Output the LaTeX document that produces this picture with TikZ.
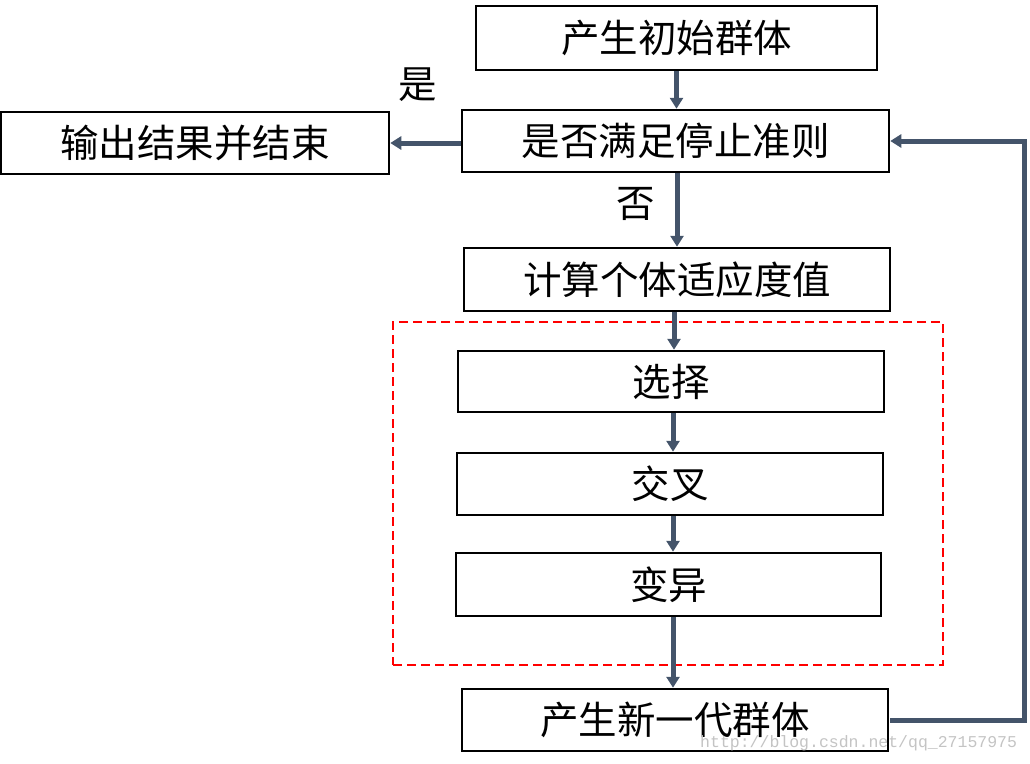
\documentclass[tikz,border=0pt]{standalone}
\usepackage{fontspec}
\setmainfont{Noto Sans CJK SC}
\newfontfamily\wmfont{Liberation Mono}
\usetikzlibrary{arrows.meta,calc}
\definecolor{arrowc}{HTML}{44546A}
\definecolor{wmgray}{HTML}{C4C4C4}
\tikzset{
  box/.style={draw=black, line width=2.5pt, fill=white, inner sep=0pt, anchor=center,
    font=\fontsize{38.5}{42}\selectfont},
  lbl/.style={inner sep=0pt, font=\fontsize{38.5}{42}\selectfont},
  arr/.style={draw=arrowc, line width=5pt, line join=miter, -{Triangle[width=13pt,length=11pt]}},
  redbox/.style={draw=red, line width=2pt, dash pattern=on 9pt off 5pt},
}
\begin{document}
\begin{tikzpicture}[x=1pt,y=-1pt]
\useasboundingbox (0,0) rectangle (1030,763);
\node[redbox, minimum width=550pt, minimum height=343pt, inner sep=0pt] (dash) at (668,493.5) {};
\node[box, minimum width=401pt, minimum height=64pt] (b1) at (676.5,38) {产生初始群体};
\node[box, minimum width=427pt, minimum height=62pt] (b2) at (675.5,141) {是否满足停止准则};
\node[box, minimum width=388pt, minimum height=62pt] (b3) at (195,143) {输出结果并结束};
\node[box, minimum width=426pt, minimum height=63pt] (b4) at (677,279.5) {计算个体适应度值};
\node[box, minimum width=426pt, minimum height=61pt] (b5) at (671,381.5) {选择};
\node[box, minimum width=426pt, minimum height=62pt] (b6) at (670,484) {交叉};
\node[box, minimum width=425pt, minimum height=63pt] (b7) at (668.5,584.5) {变异};
\node[box, minimum width=426pt, minimum height=62pt] (b8) at (675,720) {产生新一代群体};
\node[lbl] (yes) at (418,85) {是};
\node[lbl] (no) at (636,204) {否};
\draw[arr] (b1.south) -- (b1.south |- b2.north);
\draw[arr] (b2.west |- b3.east) -- (b3.east);
\draw[arr] ([xshift=1.5pt]b2.south) -- ([xshift=1.5pt]b2.south |- b4.north);
\draw[arr] ([xshift=-3pt]b4.south) -- ([xshift=-3pt]b4.south |- b5.north);
\draw[arr] ([xshift=2pt]b5.south) -- ([xshift=2pt]b5.south |- b6.north);
\draw[arr] ([xshift=3pt]b6.south) -- ([xshift=3pt]b6.south |- b7.north);
\draw[arr] ([xshift=4.5pt]b7.south) -- ([xshift=4.5pt]b7.south |- b8.north);
\coordinate (corner) at (1024,720);
\draw[arr] ([xshift=1pt]b8.east) -- (corner) |- (b2.east);
\node[anchor=west, inner sep=0pt, text=wmgray, font=\wmfont\fontsize{16.5}{18}\selectfont] (wm) at (700,743) {http://blog.csdn.net/qq\_27157975};
\end{tikzpicture}
\end{document}
